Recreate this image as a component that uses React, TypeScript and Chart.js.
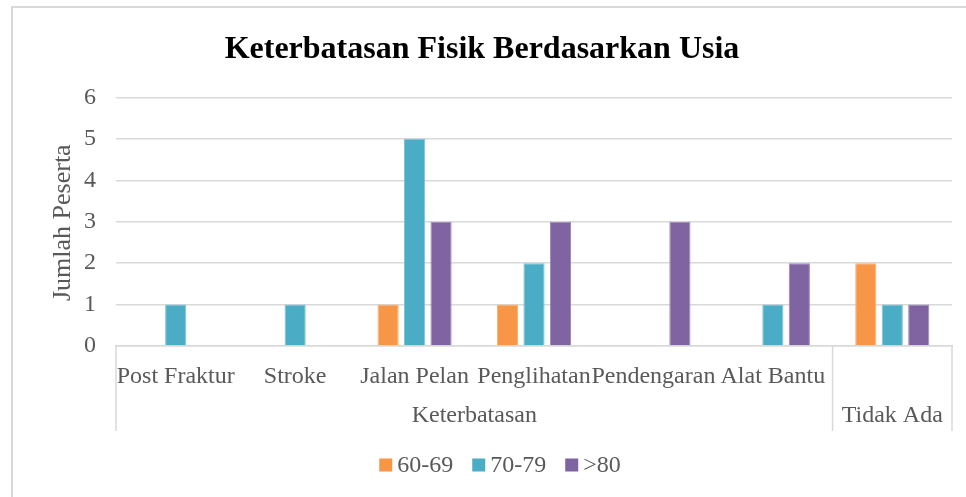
import React, { useEffect, useRef } from "react";
import { Chart, registerables } from "chart.js";

Chart.register(...registerables);

const categories = ["Post Fraktur", "Stroke", "Jalan Pelan", "Penglihatan", "Pendengaran", "Alat Bantu", ""];
const groupLabels = ["Keterbatasan", "Tidak Ada"];
const groupSpans = [6, 1];
const seriesNames = ["60-69", "70-79", ">80"];
const values6069 = [0, 0, 1, 1, 0, 0, 2];
const values7079 = [1, 1, 5, 2, 0, 1, 1];
const values80 = [0, 0, 3, 3, 3, 2, 1];
const yTicks = [0, 1, 2, 3, 4, 5, 6];

const FONT = "'Liberation Serif', 'Times New Roman', serif";
const GRAY = "#595959";
const LINE = "#D9D9D9";

const multiLevelPlugin = {
  id: "multiLevel",
  afterDraw(chart: any) {
    const { ctx, chartArea } = chart;
    const x = chart.scales.x;
    ctx.save();
    // outer border
    ctx.strokeStyle = LINE;
    ctx.lineWidth = 2;
    ctx.beginPath();
    ctx.moveTo(12, 497);
    ctx.lineTo(12, 7);
    ctx.lineTo(966, 7);
    ctx.stroke();

    // y axis title
    ctx.fillStyle = GRAY;
    ctx.font = `26px ${FONT}`;
    ctx.textAlign = "center";
    ctx.textBaseline = "middle";
    ctx.save();
    ctx.translate(63, (chartArea.top + chartArea.bottom) / 2 + 1);
    ctx.rotate(-Math.PI / 2);
    ctx.fillText("Jumlah Peserta", 0, 0);
    ctx.restore();

    // separators and group labels
    const half = (x.getPixelForValue(1) - x.getPixelForValue(0)) / 2;
    const sepBottom = chartArea.bottom + 85;
    ctx.strokeStyle = LINE;
    ctx.lineWidth = 1.5;
    let idx = 0;
    const bounds: number[] = [chartArea.left];
    groupSpans.forEach((s) => {
      idx += s;
      bounds.push(x.getPixelForValue(idx - 1) + half);
    });
    bounds.forEach((b) => {
      ctx.beginPath();
      ctx.moveTo(b, chartArea.bottom);
      ctx.lineTo(b, sepBottom);
      ctx.stroke();
    });
    ctx.font = `24px ${FONT}`;
    ctx.fillStyle = GRAY;
    groupLabels.forEach((g, i) => {
      const cx = (bounds[i] + bounds[i + 1]) / 2;
      ctx.fillText(g, cx, chartArea.bottom + 70);
    });

    // legend
    const box = 13;
    const gap = 5;
    const itemGap = 19;
    const items = chart.data.datasets.map((d: any) => ({
      label: d.label,
      color: d.backgroundColor,
      w: box + gap + ctx.measureText(d.label).width,
    }));
    const total = items.reduce((s: number, it: any) => s + it.w, 0) + itemGap * (items.length - 1);
    let lx = 500 - total / 2;
    const ly = 465;
    ctx.textAlign = "left";
    items.forEach((it: any) => {
      ctx.fillStyle = it.color;
      ctx.fillRect(lx, ly - box / 2, box, box);
      ctx.fillStyle = GRAY;
      ctx.fillText(it.label, lx + box + gap, ly + 1);
      lx += it.w + itemGap;
    });
    ctx.restore();
  },
};

export default function App() {
  const ref = useRef<HTMLCanvasElement | null>(null);
  useEffect(() => {
    if (!ref.current) return;
    const mk = (label: string, data: number[], color: string, border: string) => ({
      label,
      data,
      backgroundColor: color,
      borderColor: border,
      borderWidth: 1,
      categoryPercentage: 0.665,
      barPercentage: 0.8,
    });
    const chart = new Chart(ref.current, {
      type: "bar",
      data: {
        labels: categories,
        datasets: [
          mk(seriesNames[0], values6069, "#F79646", "#F9AE72"),
          mk(seriesNames[1], values7079, "#4BACC6", "#7CC2D6"),
          mk(seriesNames[2], values80, "#8064A2", "#9C86B8"),
        ],
      },
      options: {
        responsive: false,
        animation: false,
        layout: { padding: { left: 12, right: 14, top: 8, bottom: 50 } },
        plugins: {
          title: {
            display: true,
            text: "Keterbatasan Fisik Berdasarkan Usia",
            color: "#000",
            font: { family: FONT, size: 32, weight: "bold" },
            padding: { top: 23, bottom: 28 },
          },
          legend: { display: false },
          tooltip: { enabled: false },
        },
        scales: {
          x: {
            grid: { display: false, drawTicks: false },
            border: { display: true, color: LINE, width: 1.5 },
            ticks: {
              color: GRAY,
              font: { family: FONT, size: 24 },
              padding: 16,
              maxRotation: 0,
              minRotation: 0,
              autoSkip: false,
            },
            afterFit: (scale: any) => {
              scale.height = 101;
            },
          },
          y: {
            min: 0,
            max: 6,
            afterBuildTicks: (scale: any) => {
              scale.ticks = yTicks.map((v) => ({ value: v }));
            },
            grid: { color: LINE, lineWidth: 1.5, drawTicks: false },
            border: { display: false },
            ticks: {
              color: GRAY,
              font: { family: FONT, size: 24 },
              padding: 20,
            },
            afterFit: (scale: any) => {
              scale.width = 104;
            },
          },
        },
      },
      plugins: [multiLevelPlugin],
    });
    return () => chart.destroy();
  }, []);
  return (
    <div style={{ position: "absolute", left: 0, top: 0, width: 966, height: 497, background: "#fff" }}>
      <canvas ref={ref} width={966} height={497} style={{ display: "block" }} />
    </div>
  );
}
